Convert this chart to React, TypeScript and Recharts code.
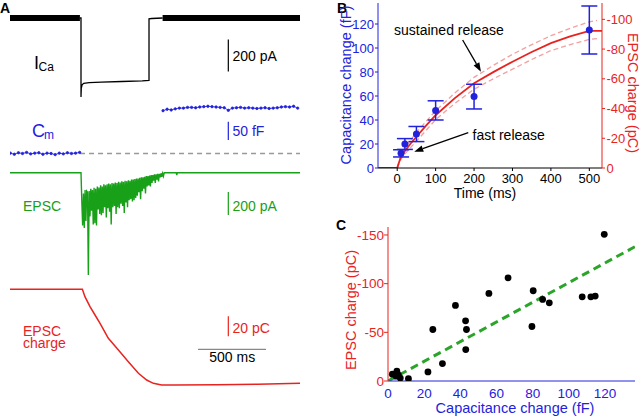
import React from "react";
import {
	ComposedChart,
	Line,
	XAxis,
	YAxis,
	Scatter,
	ErrorBar,
	ReferenceLine,
} from "recharts";

const FONT = '"Liberation Sans", Arial, sans-serif';
const BLUE = "#2222dd";
const RED = "#e8231f";
const GREEN = "#18a018";
const PINK = "#f2a0a0";
const DASHGREEN = "#2aa52a";

// ---- A: example recording (time in ms, step onset at 0)
// I_Ca (pA)
const icaPreT = [-522, -8];
const icaPostT = [600, 1610];
const icaStepT = [-8, 0, 0, 2, 8, 20, 60, 150, 300, 450, 500, 500, 520, 600];
const icaStepV = [0, 0, -494, -440, -418, -408, -404, -401, -397, -393, -390, -5, -3, 0];

// C_m (fF), sampled every 30 ms
const cmPreStart = -520;
const cmPostStart = 603;
const cmStep = 30;
const cmPre = [1, -2, 2, 0, 3, -1, 1, 2, -2, 1, 0, -3, 1, -1, 2, 0, 1, 3];
const cmPost = [
	117, 121, 119, 122, 124, 124, 126, 126, 125, 127, 128, 129, 128, 127, 126, 125, 118,
	124, 125, 126, 124, 125, 124, 123, 124, 125, 123, 124, 125, 127, 128, 127, 129, 124,
];

// EPSC (pA), sampled every 6 ms from step onset
const epscStep = 6;
const epscSamples = [
	0, -250, -460, -180, -480, -150, -420, -160, -170, -890, -160, -380, -140, -330, -150,
	-450, -130, -440, -140, -460, -120, -320, -130, -360, -110, -370, -120, -350, -100,
	-300, -110, -390, -100, -310, -95, -340, -100, -450, -90, -300, -95, -290, -85, -360,
	-90, -300, -80, -310, -85, -270, -75, -290, -80, -350, -70, -260, -75, -300, -65, -240,
	-70, -230, -60, -250, -60, -240, -55, -220, -50, -200, -50, -170, -45, -230, -40, -160,
	-40, -140, -35, -180, -30, -120, -30, -110, -25, -120, -20, -90, -20, -70, -15, -90,
	-15, -60, -10, -75, -10, -40, -5, -35, -5, -30, 0,
];
const epscTailT = [700, 704, 708, 1610];
const epscTailV = [0, -20, 0, 0];

// EPSC charge (pC)
const chargeT = [-522, 0, 10, 29, 66, 103, 140, 201, 275, 348, 422, 483, 532, 593, 691, 1000, 1300, 1610];
const chargeV = [0, 0, 0, -7.4, -17.4, -25.7, -34, -49, -60.7, -72.4, -84, -90.7, -94, -95.7, -95.7, -95.4, -95, -94];

// scale bars
const barT = 1083;
const icaBar = [-135, -335];
const cmBar = [37, 87];
const epscBar = [-168, -368];
const chargeBar = [-27, -47];
const timeBarT = [860, 1360];
const timeBarQ = -60;

// ---- B: capacitance vs. EPSC charge over pulse duration
const capT = [10, 20, 50, 100, 200, 500];
const capMean = [12.2, 20, 28.3, 48, 59.5, 115];
const capSem = [3, 4.5, 6.3, 8, 10.3, 20];

const fitT = [-50, 0, 5, 10, 20, 35, 50, 75, 100, 150, 200, 250, 300, 350, 400, 450, 500, 533];
const fitQ = [0, 0, -4, -7.6, -11.5, -16.5, -21, -28.5, -35.5, -47, -57, -64.5, -71.5, -78, -84, -88.5, -92.3, -92.3];
const bandT = [0, 10, 20, 50, 100, 150, 200, 250, 300, 350, 400, 450, 500, 520];
const bandHi = [0, -9, -13.5, -24, -38.5, -50.5, -61, -69, -76.5, -83, -89, -94, -98.3, -99.3];
const bandLo = [0, -6, -9.5, -18, -32.5, -43.5, -53, -60, -66.5, -73, -79, -83, -86.5, -87];

// ---- C: per-cell capacitance vs charge
const cellCap = [119.6, 66.4, 80.3, 55.8, 85.5, 89.2, 107.4, 112.2, 114.6, 37.3, 42.9, 43.4, 24.8, 79.6, 43, 30.1, 22.1, 11.3, 2.4, 4.5, 4.9, 5.8, 6.8];
const cellQ = [-150.7, -106, -92.7, -90, -83.8, -80.3, -86.5, -86.5, -87.2, -77.6, -61.8, -52.9, -52.9, -56, -32.3, -17.9, -9.3, -2.4, -7, -5, -10, -6, -3];
const cFitX = [0, 136.6];
const cFitQ = [0, -138];

const pts = (ts: number[], vs: number[]) => ts.map((t, i) => ({ t, v: vs[i] }));

const icaPre = pts(icaPreT, [0, 0]);
const icaPost = pts(icaPostT, [0, 0]);
const icaStep = pts(icaStepT, icaStepV);
const cmPreData = cmPre.map((v, i) => ({ t: cmPreStart + i * cmStep, v }));
const cmPostData = cmPost.map((v, i) => ({ t: cmPostStart + i * cmStep, v }));
const epscData = [
	{ t: -522, v: 0 },
	...epscSamples.map((v, i) => ({ t: i * epscStep, v })),
	...pts(epscTailT, epscTailV),
];
const chargeData = pts(chargeT, chargeV);

const capData = capT.map((t, i) => ({ t, c: capMean[i], e: capSem[i] }));
const fitData = pts(fitT, fitQ);
const hiData = pts(bandT, bandHi);
const loData = pts(bandT, bandLo);
const cellData = cellCap.map((x, i) => ({ x, y: cellQ[i] }));
const cFitData = cFitX.map((x, i) => ({ x, y: cFitQ[i] }));

const Arrow = (p: any) => {
	const { x1, y1, x2, y2 } = p;
	const a = Math.atan2(y2 - y1, x2 - x1);
	const L = 9;
	const W = 3.3;
	const bx = x2 - L * Math.cos(a);
	const by = y2 - L * Math.sin(a);
	const head = `${x2},${y2} ${bx - W * Math.sin(a)},${by + W * Math.cos(a)} ${bx + W * Math.sin(a)},${by - W * Math.cos(a)}`;
	return (
		<g>
			<line x1={x1} y1={y1} x2={bx} y2={by} stroke="#000" strokeWidth={1.3} />
			<polygon points={head} fill="#000" />
		</g>
	);
};

const Dot = (color: string, r: number) => (p: any) => (
	<circle cx={p.cx} cy={p.cy} r={r} fill={color} />
);

const line = { dot: false, isAnimationActive: false, dataKey: "v" } as const;

function PanelA() {
	return (
		<ComposedChart width={310} height={416} margin={{ top: 0, right: 10, bottom: 0, left: 10 }}>
			<XAxis type="number" dataKey="t" domain={[-522, 1610]} hide allowDataOverflow />
			<YAxis yAxisId="ica" type="number" domain={[-2487.5, 112.5]} hide allowDataOverflow />
			<YAxis yAxisId="cm" type="number" domain={[-717.2, 419.4]} hide allowDataOverflow />
			<YAxis yAxisId="epsc" type="number" domain={[-2115.7, 1501.7]} hide allowDataOverflow />
			<YAxis yAxisId="q" type="number" domain={[-126.7, 289.3]} hide allowDataOverflow />

			<Line {...line} yAxisId="ica" data={icaPre} stroke="#000" strokeWidth={6} />
			<Line {...line} yAxisId="ica" data={icaPost} stroke="#000" strokeWidth={6} />
			<Line {...line} yAxisId="ica" data={icaStep} stroke="#000" strokeWidth={1.3} />
			<Line {...line} yAxisId="ica" data={pts([barT, barT], icaBar)} stroke="#000" strokeWidth={1.2} />

			<Line {...line} yAxisId="cm" data={pts([-7, 1610], [0, 0])} stroke="#999" strokeWidth={1.3} strokeDasharray="5 4" />
			<Line {...line} yAxisId="cm" data={cmPreData} stroke={BLUE} strokeWidth={0.8} dot={{ r: 1.2, fill: BLUE, stroke: BLUE }} />
			<Line {...line} yAxisId="cm" data={cmPostData} stroke={BLUE} strokeWidth={0.8} dot={{ r: 1.2, fill: BLUE, stroke: BLUE }} />
			<Line {...line} yAxisId="cm" data={pts([barT, barT], cmBar)} stroke={BLUE} strokeWidth={1.2} />

			<Line {...line} yAxisId="epsc" data={epscData} stroke={GREEN} strokeWidth={1.4} />
			<Line {...line} yAxisId="epsc" data={pts([barT, barT], epscBar)} stroke={GREEN} strokeWidth={1.2} />

			<Line {...line} yAxisId="q" data={chargeData} stroke={RED} strokeWidth={1.5} />
			<Line {...line} yAxisId="q" data={pts([barT, barT], chargeBar)} stroke={RED} strokeWidth={1.2} />
			<Line {...line} yAxisId="q" data={pts(timeBarT, [timeBarQ, timeBarQ])} stroke="#888" strokeWidth={1.3} />
		</ComposedChart>
	);
}

const tickFont = { fontSize: 13, fontFamily: FONT };

function PanelB() {
	return (
		<ComposedChart width={320} height={200} margin={{ top: 3, right: 0, bottom: 0, left: 0 }}>
			<XAxis
				type="number"
				dataKey="t"
				domain={[-50, 533]}
				ticks={[0, 100, 200, 300, 400, 500]}
				interval={0}
				height={32}
				allowDataOverflow
				stroke="#000"
				tick={{ ...tickFont, fill: "#000" }}
				tickSize={3}
				tickMargin={3}
			/>
			<YAxis
				yAxisId="c"
				type="number"
				orientation="left"
				width={58}
				domain={[0, 137.5]}
				ticks={[0, 20, 40, 60, 80, 100, 120]}
				interval={0}
				allowDataOverflow
				stroke={BLUE}
				tick={{ ...tickFont, fill: BLUE }}
				tickSize={3}
				tickMargin={1}
			/>
			<YAxis
				yAxisId="q"
				type="number"
				orientation="right"
				width={38}
				reversed
				domain={[-111, 0]}
				ticks={[0, -20, -40, -60, -80, -100]}
				interval={0}
				allowDataOverflow
				stroke={RED}
				tick={{ ...tickFont, fill: RED }}
				tickSize={3}
				tickMargin={1.5}
			/>
			<Line {...line} yAxisId="q" data={hiData} stroke={PINK} strokeWidth={1.3} strokeDasharray="5 3" />
			<Line {...line} yAxisId="q" data={loData} stroke={PINK} strokeWidth={1.3} strokeDasharray="5 3" />
			<Line {...line} yAxisId="q" data={fitData} stroke={RED} strokeWidth={1.8} />
			<Scatter yAxisId="c" data={capData} dataKey="c" fill={BLUE} shape={Dot(BLUE, 3.5)} isAnimationActive={false}>
				<ErrorBar dataKey="e" direction="y" width={8} stroke={BLUE} strokeWidth={1.5} />
			</Scatter>
			<ReferenceLine yAxisId="c" segment={[{ x: 170.3, y: 106.7 }, { x: 218, y: 80.3 }]} shape={Arrow} ifOverflow="visible" />
			<ReferenceLine yAxisId="c" segment={[{ x: 184.9, y: 29.4 }, { x: 44.3, y: 13.6 }]} shape={Arrow} ifOverflow="visible" />
		</ComposedChart>
	);
}

function PanelC() {
	return (
		<ComposedChart width={320} height={216} margin={{ top: 27, right: 5, bottom: 0, left: 0 }}>
			<XAxis
				type="number"
				dataKey="x"
				domain={[0, 136.6]}
				ticks={[0, 20, 40, 60, 80, 100, 120]}
				interval={0}
				height={35}
				allowDataOverflow
				stroke={BLUE}
				tickLine={false}
				tick={{ ...tickFont, fontSize: 13.5, fill: BLUE }}
				tickSize={4}
				tickMargin={3}
			/>
			<YAxis
				type="number"
				width={68}
				reversed
				domain={[-158.2, 0]}
				ticks={[0, -50, -100, -150]}
				interval={0}
				allowDataOverflow
				stroke={RED}
				tick={{ ...tickFont, fontSize: 13.5, fill: RED }}
				tickSize={4}
				tickMargin={0}
			/>
			<Line data={cFitData} dataKey="y" dot={false} isAnimationActive={false} stroke={DASHGREEN} strokeWidth={3} strokeDasharray="8 5" />
			<Scatter data={cellData} dataKey="y" fill="#000" shape={Dot("#000", 3.4)} isAnimationActive={false} />
		</ComposedChart>
	);
}

const abs = (left: number, top: number): React.CSSProperties => ({ position: "absolute", left, top });

export default function App() {
	return (
		<div style={{ position: "absolute", left: 0, top: 0, width: 640, height: 416, background: "#fff", overflow: "hidden", fontFamily: FONT }}>
			<div style={abs(0, 0)}><PanelA /></div>
			<div style={abs(320, 0)}><PanelB /></div>
			<div style={abs(320, 200)}><PanelC /></div>
			<svg width={640} height={416} style={{ ...abs(0, 0), pointerEvents: "none" }} fontFamily={FONT}>
				<text x={0} y={13} fontSize={14} fontWeight="bold">A</text>
				<text x={337} y={13} fontSize={14} fontWeight="bold">B</text>
				<text x={336} y={230} fontSize={14} fontWeight="bold">C</text>

				<text x={34} y={68.5} fontSize={18}>I</text>
				<text x={38.5} y={70.5} fontSize={12}>Ca</text>
				<text x={232.5} y={60.5} fontSize={14}>200 pA</text>

				<text x={32} y={137} fontSize={18} fill={BLUE}>C</text>
				<text x={44} y={138.5} fontSize={12} fill={BLUE}>m</text>
				<text x={232.5} y={135.5} fontSize={14} fill={BLUE}>50 fF</text>

				<text x={23} y={210.5} fontSize={14} fill={GREEN}>EPSC</text>
				<text x={232.5} y={210.7} fontSize={14} fill={GREEN}>200 pA</text>

				<text x={23} y={335.5} fontSize={14} fill={RED}>
					<tspan x={23}>EPSC</tspan>
					<tspan x={23} dy={12}>charge</tspan>
				</text>
				<text x={232.5} y={332.5} fontSize={14} fill={RED}>20 pC</text>
				<text x={232.2} y={362.3} fontSize={14} textAnchor="middle">500 ms</text>

				<text x={394} y={35.3} fontSize={14}>sustained release</text>
				<text x={472.5} y={139.5} fontSize={14}>fast release</text>
				<text x={485} y={198} fontSize={14} textAnchor="middle">Time (ms)</text>
				<text x={351} y={85} fontSize={14.5} textAnchor="middle" fill={BLUE} transform="rotate(-90 351 85)">Capacitance change (fF)</text>
				<text x={627.5} y={93} fontSize={14.5} textAnchor="middle" fill={RED} transform="rotate(90 627.5 93)">EPSC charge (pC)</text>

				<text x={355.5} y={310} fontSize={14.5} textAnchor="middle" fill={RED} transform="rotate(-90 355.5 310)">EPSC charge (pC)</text>
				<text x={515} y={412.5} fontSize={14.5} textAnchor="middle" fill={BLUE}>Capacitance change (fF)</text>
			</svg>
		</div>
	);
}
